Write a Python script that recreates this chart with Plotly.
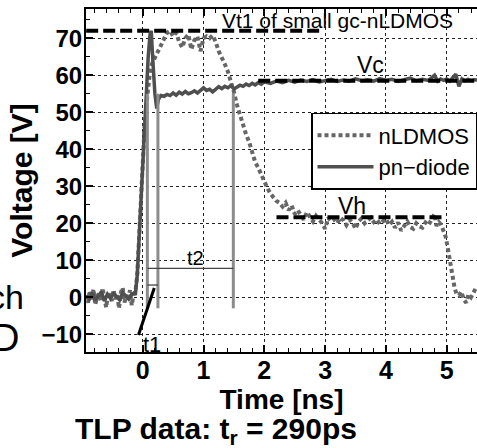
import plotly.graph_objects as go

FONT = "Liberation Sans, Arial, sans-serif"

# ---- nLDMOS (dotted) ----
nldmos_t = [-0.93, -0.90, -0.87, -0.84, -0.81, -0.78, -0.75, -0.72, -0.69, -0.66, -0.63, -0.60,
            -0.57, -0.54, -0.51, -0.48, -0.45, -0.42, -0.39, -0.36, -0.33, -0.30, -0.27, -0.24,
            -0.21, -0.18, -0.15, -0.12, -0.09, -0.06, -0.03, 0.00, 0.03, 0.06, 0.09, 0.12, 0.15,
            0.18, 0.21, 0.25, 0.30, 0.35, 0.40, 0.45, 0.50, 0.55, 0.60, 0.65, 0.70, 0.75, 0.80,
            0.85, 0.90, 0.95, 1.00, 1.05, 1.10, 1.15, 1.20, 1.25, 1.30, 1.35, 1.40, 1.45, 1.50,
            1.55, 1.60, 1.65, 1.70, 1.75, 1.80, 1.85, 1.90, 1.95, 2.00, 2.05, 2.10, 2.15, 2.20,
            2.25, 2.30, 2.35, 2.40, 2.45, 2.50, 2.55, 2.60, 2.65, 2.70, 2.75, 2.80, 2.85, 2.90,
            2.95, 3.00, 3.05, 3.10, 3.15, 3.20, 3.25, 3.30, 3.35, 3.40, 3.45, 3.50, 3.55, 3.60,
            3.65, 3.70, 3.75, 3.80, 3.85, 3.90, 3.95, 4.00, 4.05, 4.10, 4.15, 4.20, 4.25, 4.30,
            4.35, 4.40, 4.45, 4.50, 4.55, 4.60, 4.65, 4.70, 4.75, 4.80, 4.83, 4.87, 4.91, 4.95,
            4.98, 5.01, 5.04, 5.07, 5.10, 5.13, 5.16, 5.20, 5.24, 5.28, 5.32, 5.36, 5.40, 5.44,
            5.48, 5.50]
nldmos_v = [0.5, -1.5, 1.8, -0.6, 2.2, -2.0, 0.3, 1.0, -1.2, 2.5, -0.4, -2.8,
            1.4, 0.2, -1.0, 2.0, -0.5, 0.8, -3.0, 1.2, 2.6, -1.4, 0.6, -0.8,
            1.9, -2.2, 0.9, 1.5, 6.0, 16.0, 28.0, 38.0, 46.0, 52.0, 57.0, 61.0, 63.0,
            64.0, 65.0, 66.5, 68.0, 70.0, 71.5, 72.0, 70.5, 71.5, 69.0, 67.5, 70.0, 71.0, 67.0,
            69.5, 70.5, 66.5, 70.0, 70.5, 70.0, 70.8, 69.0, 66.5, 65.0, 63.0, 61.0, 58.5, 55.5,
            52.0, 49.0, 46.5, 44.0, 42.0, 39.5, 36.5, 35.0, 33.0, 31.0, 29.5, 28.0, 27.0, 26.0,
            25.5, 24.5, 25.5, 23.5, 24.8, 22.5, 23.5, 22.0, 21.0, 23.0, 21.5, 20.5, 22.0, 21.0,
            20.0, 18.5, 21.5, 20.5, 21.0, 20.0, 21.5, 20.8, 19.5, 21.0, 20.2, 18.5, 20.5, 21.3,
            20.0, 20.8, 21.5, 20.3, 21.0, 19.8, 20.6, 21.2, 19.5, 20.4, 18.8, 20.2, 18.0, 19.5,
            20.5, 19.0, 18.5, 20.0, 19.2, 18.8, 20.2, 19.5, 20.8, 22.5, 19.3, 20.3, 19.5, 18.0,
            16.5, 14.0, 11.0, 8.0, 5.0, 2.5, 1.0, 0.5, 1.5, -0.5, -1.5, 0.8, 0.0, 1.2,
            2.5, 2.0]

# ---- pn-diode (solid) ----
diode_t = [-0.93, -0.88, -0.83, -0.78, -0.73, -0.68, -0.63, -0.58, -0.53, -0.48, -0.43, -0.38,
           -0.33, -0.28, -0.23, -0.18, -0.12, -0.09, -0.06, -0.03, 0.00, 0.03, 0.06, 0.09, 0.12,
           0.14, 0.17, 0.20, 0.23, 0.26, 0.30, 0.35, 0.40, 0.45, 0.50, 0.55, 0.60, 0.65, 0.70,
           0.75, 0.80, 0.85, 0.90, 0.95, 1.00, 1.05, 1.10, 1.15, 1.20, 1.25, 1.30, 1.35, 1.40,
           1.45, 1.50, 1.55, 1.60, 1.65, 1.70, 1.75, 1.80, 1.85, 1.90, 1.95, 2.00, 2.10, 2.20,
           2.30, 2.40, 2.50, 2.60, 2.70, 2.80, 2.90, 3.00, 3.10, 3.20, 3.30, 3.40, 3.50, 3.60,
           3.70, 3.80, 3.90, 4.00, 4.10, 4.20, 4.30, 4.40, 4.50, 4.60, 4.70, 4.80, 4.85, 4.90,
           4.95, 5.00, 5.05, 5.10, 5.15, 5.20, 5.25, 5.30, 5.35, 5.40, 5.45, 5.50]
diode_v = [0.5, -0.5, 1.2, -0.8, 0.3, 1.5, -1.0, 0.8, -0.3, 1.0, 0.2, -0.7,
           1.3, 0.4, -0.5, 0.9, 1.0, 6.0, 16.0, 28.0, 38.0, 48.0, 57.0, 65.0, 71.0,
           72.0, 63.0, 55.0, 51.0, 53.5, 54.5, 54.3, 54.8, 54.5, 55.2, 54.6, 55.4, 54.9, 55.6,
           55.0, 55.3, 55.8, 55.2, 56.0, 56.6, 55.9, 56.2, 55.5, 56.3, 56.9, 56.4, 57.0, 56.6,
           57.2, 56.3, 56.8, 57.3, 57.0, 57.6, 57.2, 57.8, 57.4, 58.0, 57.6, 58.2, 57.8, 58.4,
           58.0, 58.6, 58.1, 58.7, 58.3, 58.8, 58.2, 58.6, 58.9, 58.3, 58.7, 58.4, 59.0, 58.5,
           58.8, 58.4, 59.1, 58.6, 58.9, 58.3, 58.8, 59.2, 58.5, 58.9, 58.6, 60.0, 58.4, 59.0,
           58.6, 59.0, 58.4, 59.3, 60.3, 57.0, 59.0, 58.5, 58.9, 58.6, 58.8, 58.7]

# ---- reference levels ----
vt1_level = 72.0
vt1_span = [-0.93, 2.95]
vc_level = 58.5
vc_span = [1.90, 5.50]
vh_level = 21.6
vh_span = [2.20, 4.97]

# ---- timing markers ----
marker_times = [0.076, 0.25, 1.49]
marker_top = 55.0
marker_bottom = -3.0
t2_level = 7.8
t2_span = [0.08, 1.49]
t1_level = 3.3
t1_span = [0.076, 0.25]
t1_pointer_t = [-0.07, 0.19]
t1_pointer_v = [-10.2, 2.5]

x_ticks = [0, 1, 2, 3, 4, 5]
y_ticks = [-10, 0, 10, 20, 30, 40, 50, 60, 70]

fig = go.Figure()

fig.add_trace(go.Scatter(x=nldmos_t, y=nldmos_v, mode="lines", name="nLDMOS",
                         line=dict(color="#666666", width=4, dash="4px,3px")))
fig.add_trace(go.Scatter(x=diode_t, y=diode_v, mode="lines", name="pn\u2212diode",
                         line=dict(color="#4f4f4f", width=3.5)))

for t in marker_times:
    fig.add_trace(go.Scatter(x=[t, t], y=[marker_bottom, marker_top], mode="lines",
                             showlegend=False, hoverinfo="skip",
                             line=dict(color="#8c8c8c", width=3)))

fig.add_trace(go.Scatter(x=t2_span, y=[t2_level, t2_level], mode="lines", showlegend=False,
                         hoverinfo="skip", line=dict(color="#444444", width=1.3)))
fig.add_trace(go.Scatter(x=t1_span, y=[t1_level, t1_level], mode="lines", showlegend=False,
                         hoverinfo="skip", line=dict(color="#444444", width=1.3)))
fig.add_trace(go.Scatter(x=t1_pointer_t, y=t1_pointer_v, mode="lines", showlegend=False,
                         hoverinfo="skip", line=dict(color="#000000", width=3)))

for span, lvl in [(vt1_span, vt1_level), (vc_span, vc_level), (vh_span, vh_level)]:
    fig.add_trace(go.Scatter(x=span, y=[lvl, lvl], mode="lines", showlegend=False,
                             hoverinfo="skip",
                             line=dict(color="#000000", width=4, dash="12px,5px")))

annotations = [
    dict(x=3.20, y=74.9, xref="x", yref="y", text="Vt1 of small gc-nLDMOS",
         font=dict(family=FONT, size=21, color="#000000")),
    dict(x=3.75, y=62.8, xref="x", yref="y", text="Vc", font=dict(family=FONT, size=23)),
    dict(x=3.44, y=24.7, xref="x", yref="y", text="Vh", font=dict(family=FONT, size=23)),
    dict(x=0.86, y=10.6, xref="x", yref="y", text="t2", font=dict(family=FONT, size=20)),
    dict(x=0.145, y=-12.9, xref="x", yref="y", text="t1", font=dict(family=FONT, size=22)),
    dict(x=0.3325, y=-0.2303, xref="paper", yref="paper", xanchor="center", yanchor="middle",
         text="TLP data: t<sub>r</sub> = 290ps",
         font=dict(family=FONT, size=30, weight="bold")),
    dict(x=-0.1535, y=0.160, xref="paper", yref="paper", xanchor="right", yanchor="middle",
         text="ch", font=dict(family=FONT, size=34)),
    dict(x=-0.166, y=0.041, xref="paper", yref="paper", xanchor="right", yanchor="middle",
         text="D", font=dict(family=FONT, size=38)),
]
for a in annotations:
    a["showarrow"] = False

fig.update_layout(
    width=477, height=448,
    margin=dict(l=86, r=0, t=9, b=96),
    paper_bgcolor="white", plot_bgcolor="white",
    font=dict(family=FONT, color="#000000"),
    annotations=annotations,
    showlegend=True,
    legend=dict(x=1, xanchor="right", y=0.697, yanchor="top",
                bgcolor="white", bordercolor="#000000", borderwidth=1.5,
                font=dict(family=FONT, size=22, color="#000000"),
                tracegroupgap=0, itemwidth=56),
    xaxis=dict(range=[-0.933, 5.498], tickvals=x_ticks, ticktext=[str(v) for v in x_ticks],
               ticks="inside", ticklen=7, tickwidth=1.5, tickcolor="#000000",
               minor=dict(dtick=0.2, tick0=0, ticks="inside", ticklen=4, tickwidth=1.2,
                          tickcolor="#000000", showgrid=False),
               showline=True, linecolor="#000000", linewidth=2, mirror="ticks",
               showgrid=True, gridcolor="#222222", griddash="dot", gridwidth=1,
               zeroline=False, ticklabelstandoff=-5,
               tickfont=dict(family=FONT, size=25, weight="bold"),
               title=dict(text="Time [ns]", standoff=1,
                          font=dict(family=FONT, size=28, weight="bold"))),
    yaxis=dict(range=[-14.8, 77.9], tickvals=y_ticks, ticktext=["\u221210"] + [str(v) for v in y_ticks[1:]],
               ticks="inside", ticklen=7, tickwidth=1.5, tickcolor="#000000",
               minor=dict(dtick=5, tick0=0, ticks="inside", ticklen=4, tickwidth=1.2,
                          tickcolor="#000000", showgrid=False),
               showline=True, linecolor="#000000", linewidth=2, mirror=False,
               showgrid=True, gridcolor="#222222", griddash="dot", gridwidth=1,
               zeroline=False, ticklabelstandoff=-3,
               tickfont=dict(family=FONT, size=24, weight="bold"),
               title=dict(text="Voltage [V]", standoff=0,
                          font=dict(family=FONT, size=30, weight="bold"))),
)

fig.write_html("out.html", config={"displayModeBar": False},
               post_script="document.body.style.margin='0';document.body.style.padding='0';")
